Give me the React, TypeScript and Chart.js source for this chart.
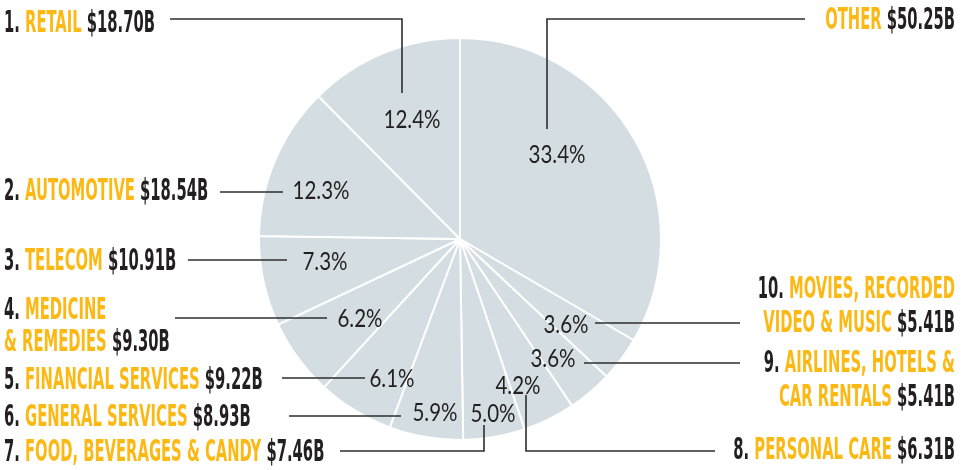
import React, { useEffect, useRef } from 'react';
import { Chart, registerables } from 'chart.js';

Chart.register(...registerables);

// ---------- data (clockwise from 12 o'clock) ----------
const categories = [
  'Other',
  'Movies, Recorded Video & Music',
  'Airlines, Hotels & Car Rentals',
  'Personal Care',
  'Food, Beverages & Candy',
  'General Services',
  'Financial Services',
  'Medicine & Remedies',
  'Telecom',
  'Automotive',
  'Retail',
];
const ranks = ['', '10.', '9.', '8.', '7.', '6.', '5.', '4.', '3.', '2.', '1.'];
const spendingBillions = [50.25, 5.41, 5.41, 6.31, 7.46, 8.93, 9.22, 9.3, 10.91, 18.54, 18.7];
const nameLines = [
  ['OTHER'],
  ['MOVIES, RECORDED', 'VIDEO & MUSIC'],
  ['AIRLINES, HOTELS &', 'CAR RENTALS'],
  ['PERSONAL CARE'],
  ['FOOD, BEVERAGES & CANDY'],
  ['GENERAL SERVICES'],
  ['FINANCIAL SERVICES'],
  ['MEDICINE', '& REMEDIES'],
  ['TELECOM'],
  ['AUTOMOTIVE'],
  ['RETAIL'],
];

// ---------- annotation layout (page pixels) ----------
type Pt = [number, number];
interface LabelLayout {
  align: 'left' | 'right';
  x: number;
  baselines: number[];
  leader: Pt[];
  pct: Pt;
}
const LABEL_LAYOUT: LabelLayout[] = [
  { align: 'right', x: 955, baselines: [29], leader: [[805, 19], [547, 19], [547, 129]], pct: [557, 154] },
  { align: 'right', x: 955, baselines: [298, 332], leader: [[740, 323], [595, 323]], pct: [566, 324] },
  { align: 'right', x: 955, baselines: [372, 406], leader: [[740, 363], [584, 363]], pct: [553, 358] },
  { align: 'right', x: 955, baselines: [459], leader: [[715, 451], [526, 451], [526, 395]], pct: [518, 385] },
  { align: 'left', x: 4, baselines: [461], leader: [[340, 451], [484, 451], [484, 425]], pct: [493, 413] },
  { align: 'left', x: 4, baselines: [426], leader: [[289, 416], [401, 416]], pct: [435, 412] },
  { align: 'left', x: 4, baselines: [389], leader: [[282, 378], [365, 378]], pct: [392, 378] },
  { align: 'left', x: 4, baselines: [319, 351], leader: [[175, 318], [327, 318]], pct: [360, 318] },
  { align: 'left', x: 4, baselines: [270], leader: [[188, 260], [287, 260]], pct: [325, 261] },
  { align: 'left', x: 4, baselines: [200], leader: [[220, 192], [283, 192]], pct: [321, 190] },
  { align: 'left', x: 4, baselines: [32], leader: [[170, 19], [402, 19], [402, 93]], pct: [412, 119] },
];

const YELLOW = '#fcb813';
const DARK = '#231f20';
const SLICE = '#d4dde2';
const LABEL_FONT = 'bold 31px "Liberation Sans Narrow", "DejaVu Sans Condensed", "Liberation Sans", sans-serif';
const PCT_FONT = '400 25px Lato, "Open Sans", sans-serif';

const annotationPlugin = {
  id: 'annotations',
  afterDraw(chart: any) {
    const ctx: CanvasRenderingContext2D = chart.ctx;
    const data: number[] = chart.data.datasets[0].data;
    const total = data.reduce((a, b) => a + b, 0);
    ctx.save();

    // leader lines
    ctx.strokeStyle = '#2e2e2e';
    ctx.lineWidth = 1.6;
    LABEL_LAYOUT.forEach((l) => {
      ctx.beginPath();
      l.leader.forEach(([x, y], i) => (i === 0 ? ctx.moveTo(x, y) : ctx.lineTo(x, y)));
      ctx.stroke();
    });

    // percentages
    ctx.font = PCT_FONT;
    const spx = 57 / ctx.measureText('12.4%').width;
    ctx.fillStyle = DARK;
    ctx.textBaseline = 'alphabetic';
    ctx.textAlign = 'left';
    data.forEach((v, i) => {
      const txt = ((v / total) * 100).toFixed(1) + '%';
      const w = ctx.measureText(txt).width * spx;
      const [cx, cy] = LABEL_LAYOUT[i].pct;
      ctx.save();
      ctx.translate(cx - w / 2, cy + 9);
      ctx.scale(spx, 1);
      ctx.fillText(txt, 0, 0);
      ctx.restore();
    });

    // category labels
    ctx.font = LABEL_FONT;
    const sx = 151 / ctx.measureText('1. RETAIL $18.70B').width;
    const space = ctx.measureText(' ').width * sx;
    data.forEach((v, i) => {
      const l = LABEL_LAYOUT[i];
      const lines = nameLines[i];
      lines.forEach((name, li) => {
        const segs: { t: string; c: string }[] = [];
        if (li === 0 && ranks[i]) segs.push({ t: ranks[i], c: DARK });
        segs.push({ t: name, c: YELLOW });
        if (li === lines.length - 1) segs.push({ t: '$' + v.toFixed(2) + 'B', c: DARK });
        const widths = segs.map((s) => ctx.measureText(s.t).width * sx);
        const totalW = widths.reduce((a, b) => a + b, 0) + space * (segs.length - 1);
        let x = l.align === 'left' ? l.x : l.x - totalW;
        const y = l.baselines[li];
        segs.forEach((s, si) => {
          ctx.save();
          ctx.translate(x, y);
          ctx.scale(sx, 1);
          ctx.fillStyle = s.c;
          ctx.fillText(s.t, 0, 0);
          ctx.restore();
          x += widths[si] + space;
        });
      });
    });
    ctx.restore();
  },
};

export default function App() {
  const canvasRef = useRef<HTMLCanvasElement>(null);

  useEffect(() => {
    if (!canvasRef.current) return;
    const chart = new Chart(canvasRef.current, {
      type: 'pie',
      data: {
        labels: categories,
        datasets: [
          {
            data: spendingBillions,
            backgroundColor: SLICE,
            borderColor: '#ffffff',
            borderWidth: 2,
            hoverOffset: 0,
          },
        ],
      },
      options: {
        animation: false,
        responsive: true,
        maintainAspectRatio: false,
        events: [],
        layout: { padding: { left: 258, right: 305, top: 37, bottom: 29 } },
        plugins: {
          legend: { display: false },
          tooltip: { enabled: false },
        },
      },
      plugins: [annotationPlugin],
    });
    return () => chart.destroy();
  }, []);

  return (
    <div style={{ position: 'fixed', left: 0, top: 0, width: 967, height: 470, background: '#fff' }}>
      <canvas ref={canvasRef} />
    </div>
  );
}
